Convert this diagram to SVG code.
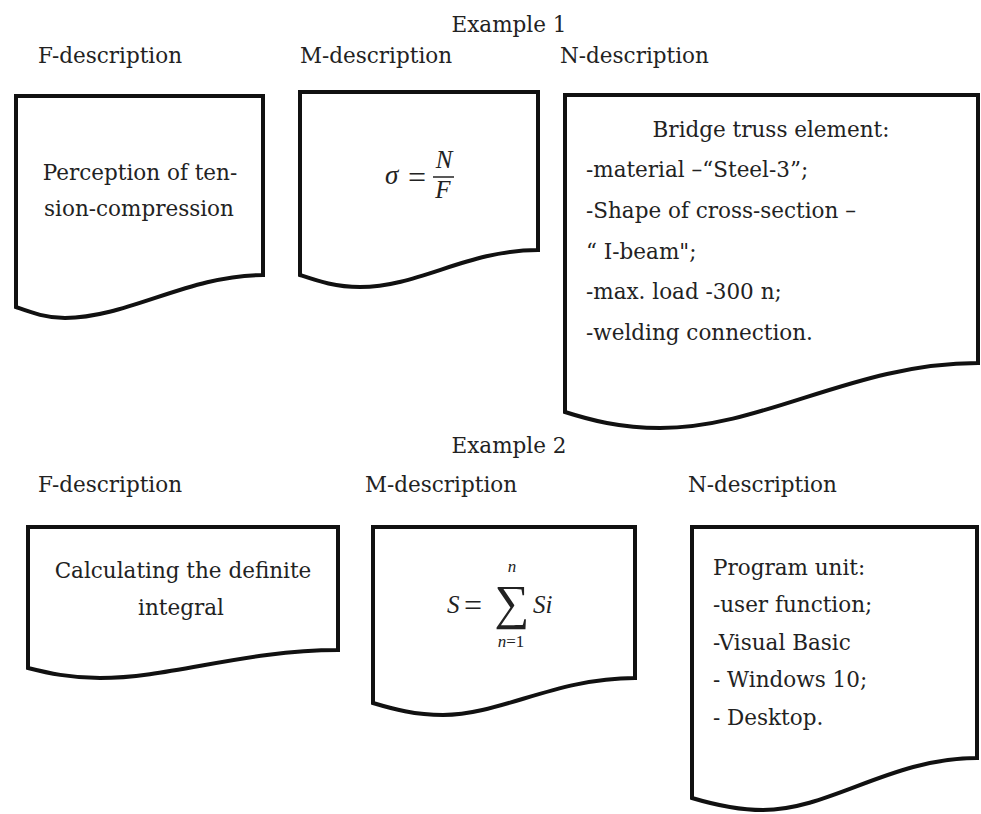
<svg xmlns="http://www.w3.org/2000/svg" width="981" height="814" viewBox="0 0 981 814">
<style>
.doc{fill:#fff;stroke:#111;stroke-width:4;stroke-linejoin:miter}
text{font-family:"DejaVu Serif","Liberation Serif",serif;font-size:21.5px;fill:#222}
.m{text-anchor:middle}
.math{font-family:"Liberation Serif","DejaVu Serif",serif;font-style:italic;font-size:25px}
.eq{font-family:"Liberation Serif","DejaVu Serif",serif;font-style:normal;font-size:32px}
</style>
<rect width="981" height="814" fill="#fff"/>
<g id="headers">
<text class="m" x="509" y="32">Example 1</text>
<text x="38" y="63">F-description</text>
<text x="300" y="63">M-description</text>
<text x="560" y="63">N-description</text>
<text class="m" x="509" y="453">Example 2</text>
<text x="38" y="492">F-description</text>
<text x="365" y="492">M-description</text>
<text x="688" y="492">N-description</text>
</g>
<g id="connectors"></g>
<g id="f1">
<path class="doc" d="M16,96 H263 V275 C189,275 127,318 65,318 C45,318 30,312 16,307 Z"/>
<text class="m" x="140" y="180">Perception of ten-</text>
<text class="m" x="139" y="216">sion-compression</text>
</g>
<g id="m1">
<path class="doc" d="M300,92 H538 V250 C467,250 419,287 360,287 C335,287 318,281 300,275 Z"/>
<text class="math" x="385" y="184" style="font-size:27px">σ</text>
<text class="eq" x="408" y="188">=</text>
<line x1="433" y1="177" x2="454" y2="177" stroke="#222" stroke-width="1.5"/>
<text class="math m" x="444" y="168">N</text>
<text class="math m" x="443" y="198">F</text>
</g>
<g id="n1">
<path class="doc" d="M565,95 H978 V363 C854,363 764,428 660,428 C620,428 590,420 565,412 Z"/>
<text class="m" x="771" y="137">Bridge truss element:</text>
<text x="586" y="177">-material –“Steel-3”;</text>
<text x="586" y="218">-Shape of cross-section –</text>
<text x="586" y="259">“ I-beam";</text>
<text x="586" y="299">-max. load -300 n;</text>
<text x="586" y="340">-welding connection.</text>
</g>
<g id="f2">
<path class="doc" d="M28,527 H338 V650 C245,650 170,678 100,678 C70,678 48,673 28,668 Z"/>
<text class="m" x="183" y="578">Calculating the definite</text>
<text class="m" x="181" y="615">integral</text>
</g>
<g id="m2">
<path class="doc" d="M373,527 H635 V678 C556,678 500,715 443,715 C415,715 393,709 373,703 Z"/>
<text class="math" x="447" y="613">S</text>
<text class="eq" x="464" y="616">=</text>
<text class="m" x="512" y="619" style="font-family:'Liberation Serif',serif;font-size:49px">∑</text>
<text class="math m" x="512" y="572" style="font-size:17px">n</text>
<text class="math m" x="511" y="647" style="font-size:17px">n<tspan style="font-style:normal">=1</tspan></text>
<text class="math" x="533" y="613">Si</text>
</g>
<g id="n2">
<path class="doc" d="M692,527 H977 V758 C891,758 830,810 763,810 C735,810 712,804 692,798 Z"/>
<text x="713" y="575">Program unit:</text>
<text x="713" y="612">-user function;</text>
<text x="713" y="650">-Visual Basic</text>
<text x="713" y="687">- Windows 10;</text>
<text x="713" y="725">- Desktop.</text>
</g>
</svg>
